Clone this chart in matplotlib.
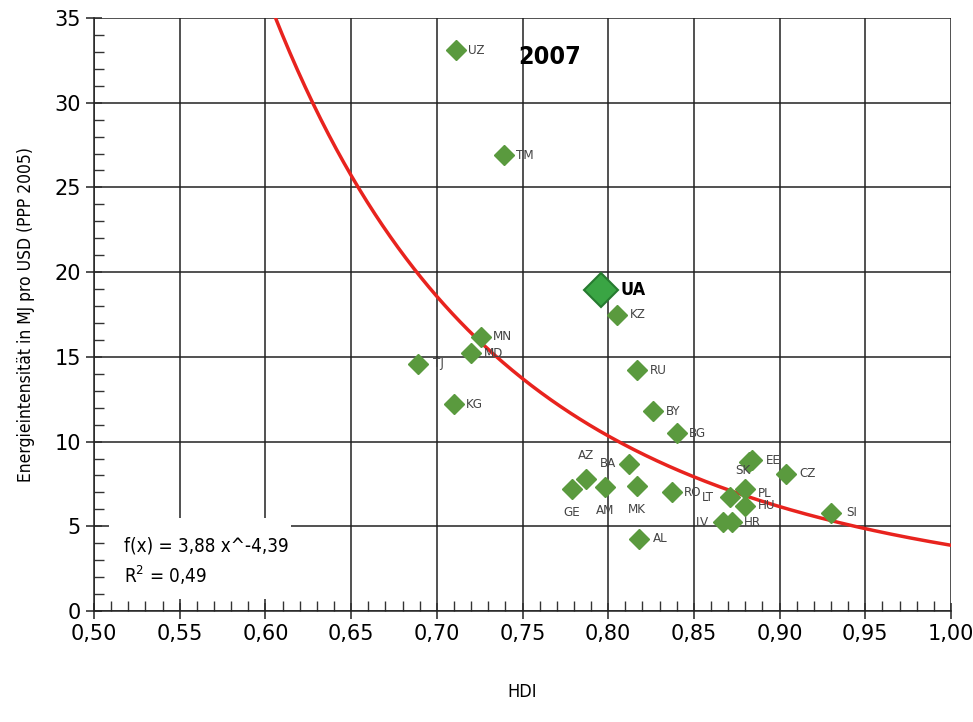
import numpy as np
import matplotlib
matplotlib.use("Agg")
import matplotlib.pyplot as plt
from matplotlib import font_manager as fm
from matplotlib.patches import Rectangle

# country codes, HDI and energy intensity (MJ per USD, PPP 2005), 2007
countries = ["UZ", "TM", "KZ", "MN", "MD", "TJ", "KG", "RU", "BY", "BG",
             "AZ", "BA", "GE", "AM", "MK", "RO", "AL", "LT", "PL", "HU",
             "SK", "EE", "CZ", "SI", "LV", "HR"]
hdi = [0.711, 0.739, 0.805, 0.726, 0.720, 0.689, 0.710, 0.817, 0.826, 0.840,
       0.787, 0.812, 0.779, 0.798, 0.817, 0.837, 0.818, 0.871, 0.880, 0.880,
       0.882, 0.884, 0.904, 0.930, 0.867, 0.872]
intensity = [33.1, 26.9, 17.5, 16.2, 15.2, 14.6, 12.2, 14.2, 11.8, 10.5,
             7.8, 8.7, 7.2, 7.3, 7.4, 7.0, 4.25, 6.7, 7.2, 6.2,
             8.8, 8.9, 8.1, 5.8, 5.25, 5.25]
# label centre offsets in points (dx, dy); default is to the right
offsets = {"AZ": (0, 17), "BA": (-15, 0), "GE": (0, -17), "AM": (0, -17),
           "MK": (0, -17), "SK": (-4, -6), "LT": (-16, 0), "LV": (-15, 0),
           "PL": (14, -3), "HU": (15, 0), "MD": (16, 0)}

ua_hdi, ua_int = 0.796, 18.95
fit_a, fit_b = 3.88, -4.39

# use a condensed face if one is installed
names = {f.name for f in fm.fontManager.ttflist}
cond = [f for f in fm.fontManager.ttflist if f.name == "DejaVu Sans" and f.stretch == "condensed"]
if "Liberation Sans Narrow" in names:
    plt.rcParams['font.family'] = ['Liberation Sans Narrow', 'DejaVu Sans']
elif cond:
    plt.rcParams['font.family'] = ['DejaVu Sans']
    plt.rcParams['font.stretch'] = 'condensed'

fig = plt.figure(figsize=(9.73, 7.22), dpi=100)
ax = fig.add_axes([94 / 973, 111 / 722, 857 / 973, 593 / 722])

green = "#5a9a3e"
ax.plot(hdi, intensity, linestyle="none", marker="D", ms=10, color=green,
        mec=green, zorder=4)
for c, x, y in zip(countries, hdi, intensity):
    dx, dy = offsets.get(c, (15, 0))
    ax.annotate(c, (x, y), xytext=(dx, dy), textcoords="offset points",
                fontsize=9.5, color="#444444", ha="center", va="center", zorder=5)

# Ukraine highlighted
ax.plot([ua_hdi], [ua_int], marker="D", ms=17, color="#3aa544", mec="#267a30",
        mew=1.5, linestyle="none", zorder=6)
ax.annotate("UA", (ua_hdi, ua_int), xytext=(14, 0), textcoords="offset points",
            fontsize=13, fontweight="bold", va="center", color="black", zorder=6)

# power fit
xs = np.linspace(0.55, 1.0, 400)
ax.plot(xs, fit_a * xs ** fit_b, color="#e8231e", lw=2.5, zorder=3)

ax.set_xlim(0.5, 1.0)
ax.set_ylim(0, 35)
xt = np.arange(0.5, 1.001, 0.05)
ax.set_xticks(xt)
ax.set_xticks(np.arange(0.5, 1.001, 0.01), minor=True)
ax.set_yticks(np.arange(0, 36, 5))
ax.set_yticks(np.arange(0, 36, 1), minor=True)
ax.set_xticklabels([f"{v:.2f}".replace(".", ",") for v in xt],
                   family="DejaVu Sans", stretch="normal")
ax.set_yticklabels([str(v) for v in range(0, 36, 5)], family="DejaVu Sans",
                   stretch="normal")
ax.tick_params(axis="both", which="major", labelsize=15, direction="inout",
               length=12, width=1.2, color="#333333")
ax.tick_params(axis="both", which="minor", direction="in", length=7,
               width=1, color="#333333")
ax.grid(which="major", color="#222222", lw=1.1)
ax.set_axisbelow(True)
for s in ax.spines.values():
    s.set_color("#222222")
    s.set_linewidth(1.1)
ax.spines["top"].set_visible(False)
ax.spines["right"].set_visible(False)

ax.set_xlabel("HDI", fontsize=13, labelpad=28)
ax.set_ylabel("Energieintensität in MJ pro USD (PPP 2005)", fontsize=12.5, labelpad=14)

ax.text(0.766, 32.7, "2007", fontsize=18, fontweight="bold", ha="center",
        va="center", zorder=6)

# white box with fit equation
ax.add_patch(Rectangle((0.509, 0.7), 0.106, 4.8, facecolor="white",
                       edgecolor="none", zorder=2.5))
ax.text(0.5175, 3.85, "f(x) = 3,88 x^-4,39", fontsize=13.5, va="center", zorder=6)
ax.text(0.5175, 2.1, "R$^2$ = 0,49", fontsize=13.5, va="center", zorder=6)

fig.savefig("out.png", dpi=100)
